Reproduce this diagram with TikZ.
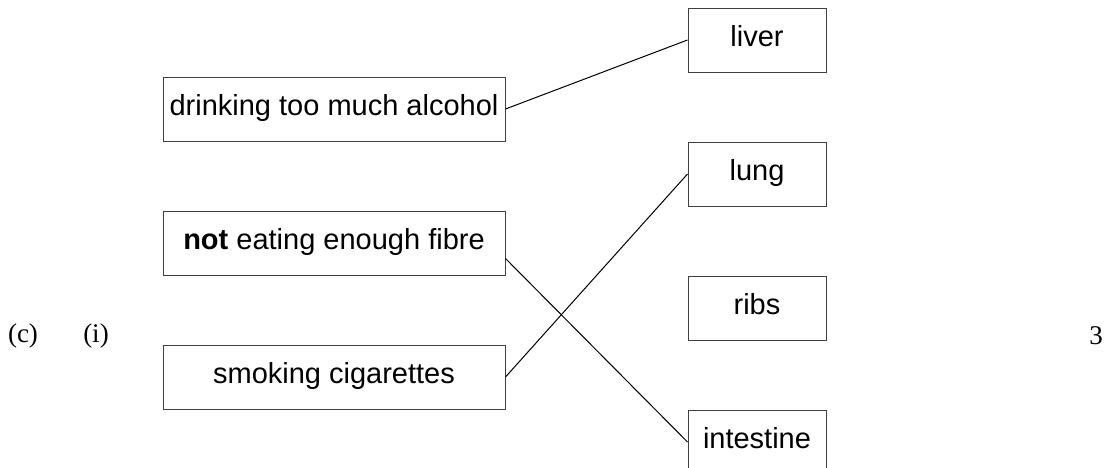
\documentclass[tikz,border=0pt]{standalone}
\usepackage{fontspec}
\setmainfont{Liberation Sans}
\newfontfamily\timesfont{Liberation Serif}
\usetikzlibrary{positioning}

\begin{document}
\begin{tikzpicture}[x=0.5pt, y=-0.5pt, node distance=34.5pt, causebox/.style={draw=black!75, line width=0.5pt, inner sep=0pt, minimum width=171pt, minimum height=32pt, text height=11pt, text depth=5pt, font=\fontsize{14.5}{17}\selectfont}, organbox/.style={causebox, minimum width=69pt}, marktext/.style={inner sep=0pt, font=\timesfont\fontsize{13.5}{16}\selectfont}]

    \useasboundingbox (0,0) rectangle (1109,467);

    %Nodes
    \node[causebox](alcohol) at (334,109){drinking too much alcohol};
    \node[causebox](fibre)[below=of alcohol]{\textbf{not} eating enough fibre};
    \node[causebox](smoking)[below=of fibre]{smoking cigarettes};
    \node[organbox](liver) at (757,40){liver};
    \node[organbox](lung)[below=of liver]{lung};
    \node[organbox](ribs)[below=of lung]{ribs};
    \node[organbox](intestine)[below=of ribs]{intestine};
    \node[marktext](part) at (23,336){(c)};
    \node[marktext](subpart) at (96,336){(i)};
    \node[marktext](marks) at (1096,336){3};

    %Lines
    \draw[line width=0.5pt] (alcohol.east) -- (liver.west);
    \draw[line width=0.5pt] ([yshift=-7.75pt]fibre.east) -- (intestine.west);
    \draw[line width=0.5pt] (smoking.east) -- (lung.west);

\end{tikzpicture}
\end{document}
